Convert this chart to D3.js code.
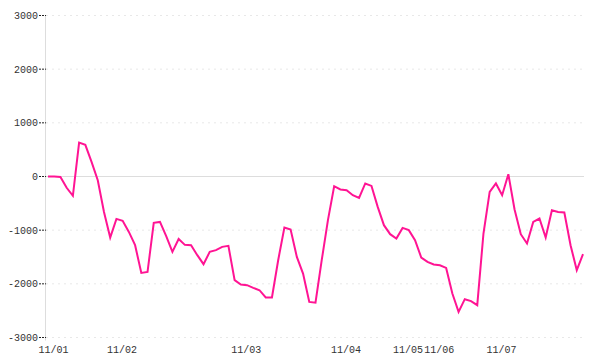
<!DOCTYPE html>
<html>
<head>
<meta charset="utf-8">
<script src="https://cdn.jsdelivr.net/npm/d3@7"></script>
<style>
  body { margin: 0; background: #fff; }
  text { font-family: "Liberation Mono", monospace; font-size: 10px; fill: #333; }
</style>
</head>
<body>
<svg width="600" height="360"></svg>
<script>
var values = [0, 0, -10, -210, -360, 633, 590, 272, -70, -660,
  -1137, -790, -827, -1032, -1280, -1796, -1777, -864, -846, -1112,
  -1404, -1165, -1274, -1280, -1466, -1634, -1404, -1373, -1311, -1292,
  -1932, -2013, -2025, -2075, -2119, -2255, -2255, -1560, -951, -988,
  -1498, -1808, -2337, -2352, -1560, -814, -181, -242, -255, -348,
  -399, -130, -175, -566, -907, -1075, -1155, -958, -1000, -1187,
  -1510, -1591, -1640, -1653, -1703, -2180, -2523, -2286, -2323, -2398,
  -1062, -286, -130, -348, 43, -615, -1075, -1248, -846, -783,
  -1137, -628, -660, -671, -1280, -1746, -1448];

var tickIndex = [0, 11, 31, 47, 57, 62, 72];
var tickLabels = ["11/01", "11/02", "11/03", "11/04", "11/05", "11/06", "11/07"];
var yTicks = [-3000, -2000, -1000, 0, 1000, 2000, 3000];

var svg = d3.select("svg");

var x = d3.scalePoint()
    .domain(d3.range(values.length))
    .range([48, 583]);

var y = d3.scaleLinear()
    .domain([-3000, 3000])
    .range([337.5, 15.5]);

// grid lines
svg.append("g")
  .selectAll("line")
  .data(yTicks.filter(function(d) { return d !== 0; }))
  .enter().append("line")
    .attr("x1", 46)
    .attr("x2", 584)
    .attr("y1", function(d) { return y(d); })
    .attr("y2", function(d) { return y(d); })
    .style("stroke", "#e8e8e8")
    .style("stroke-dasharray", "2,4");

// zero line
svg.append("line")
    .attr("x1", 46)
    .attr("x2", 584)
    .attr("y1", y(0))
    .attr("y2", y(0))
    .style("stroke", "#ddd");

// y axis line
svg.append("line")
    .attr("x1", 45.5)
    .attr("x2", 45.5)
    .attr("y1", y(3000))
    .attr("y2", y(-3000) + 3)
    .style("stroke", "#ddd");

var yTick = svg.append("g")
  .selectAll("g")
  .data(yTicks)
  .enter().append("g")
    .attr("transform", function(d) { return "translate(0," + y(d) + ")"; });

yTick.append("line")
    .attr("x1", 39)
    .attr("x2", 46)
    .style("stroke", "#222")
    .style("stroke-dasharray", "2,1");

yTick.append("text")
    .attr("x", 38)
    .attr("dy", "0.35em")
    .attr("text-anchor", "end")
    .text(function(d) { return d; });

// x labels
svg.append("g")
  .selectAll("text")
  .data(tickIndex)
  .enter().append("text")
    .attr("x", function(d) { return x(d) + 5.5; })
    .attr("y", 353)
    .attr("text-anchor", "middle")
    .text(function(d, i) { return tickLabels[i]; });

var line = d3.line()
    .x(function(d, i) { return x(i); })
    .y(function(d) { return y(d); });

svg.append("path")
    .datum(values)
    .attr("d", line)
    .style("fill", "none")
    .style("stroke", "#ff1493")
    .style("stroke-width", 2);
</script>
</body>
</html>
